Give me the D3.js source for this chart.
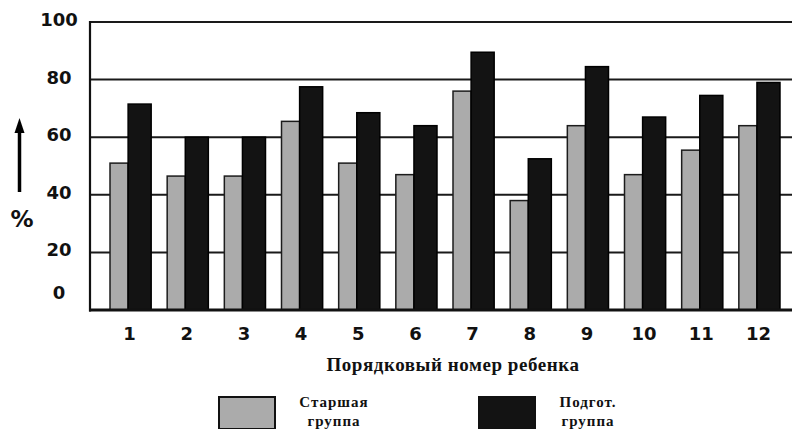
<!DOCTYPE html>
<html>
<head>
<meta charset="utf-8">
<script src="https://cdn.jsdelivr.net/npm/d3@7"></script>
<style>
  html, body { margin: 0; padding: 0; background: #fff; }
  svg { display: block; }
</style>
</head>
<body>
<svg id="chart" width="792" height="429"></svg>
<script>
const categories = ["1","2","3","4","5","6","7","8","9","10","11","12"];
const seniorGroup = [51, 46.5, 46.5, 65.5, 51, 47, 76, 38, 64, 47, 55.5, 64];
const prepGroup   = [71.5, 60, 60, 77.5, 68.5, 64, 89.5, 52.5, 84.5, 67, 74.5, 79];
const yTicks = [0, 20, 40, 60, 80, 100];
const seriesNames = ["Старшая\nгруппа", "Подгот.\nгруппа"];
const xTitle = "Порядковый номер ребенка";
const yUnit = "%";

(function () {
const svg = d3.select("#chart");
const W = 792;
const mLeft = 90, mRight = 800, mTop = 22, mBottom = 310;

const x = d3.scaleBand().domain(categories).range([mLeft, mRight]).paddingInner(0.28).paddingOuter(0.35);
const y = d3.scaleLinear().domain([0, 100]).range([mBottom, mTop]);

const grayFill = "#ababab", darkFill = "#131313";

// gridlines
svg.append("g").selectAll("line").data(yTicks.filter(t => t > 0)).join("line")
  .attr("x1", mLeft).attr("x2", W)
  .attr("y1", d => y(d)).attr("y2", d => y(d))
  .attr("stroke", "#1a1a1a").attr("stroke-width", 2);

// left axis line
svg.append("line").attr("x1", mLeft).attr("x2", mLeft).attr("y1", y(100) - 1).attr("y2", y(0) + 1.5)
  .attr("stroke", "#111").attr("stroke-width", 2.2);

// bars
const gw = 0.44;
const groups = svg.append("g").selectAll("g").data(categories).join("g");
groups.append("rect")
  .attr("x", (d) => x(d))
  .attr("width", x.bandwidth() * gw)
  .attr("y", (d, i) => y(seniorGroup[i]))
  .attr("height", (d, i) => y(0) - y(seniorGroup[i]))
  .attr("fill", grayFill).attr("stroke", "#1c1c1c").attr("stroke-width", 1.5);
groups.append("rect")
  .attr("x", (d) => x(d) + x.bandwidth() * gw)
  .attr("width", x.bandwidth() * (1 - gw))
  .attr("y", (d, i) => y(prepGroup[i]))
  .attr("height", (d, i) => y(0) - y(prepGroup[i]))
  .attr("fill", darkFill).attr("stroke", "#000").attr("stroke-width", 1.5);

// bottom axis line
svg.append("line").attr("x1", mLeft - 1).attr("x2", W).attr("y1", y(0)).attr("y2", y(0))
  .attr("stroke", "#111").attr("stroke-width", 3);

// y tick labels
svg.append("g").selectAll("text").data(yTicks).join("text")
  .attr("x", 59)
  .attr("y", d => d === 0 ? y(d) - 11 : y(d) + 4)
  .attr("text-anchor", "middle")
  .attr("font-family", "DejaVu Sans, Verdana, sans-serif")
  .attr("font-weight", "bold").attr("font-size", 18).attr("fill", "#111")
  .text(d => d);

// x tick labels
svg.append("g").selectAll("text").data(categories).join("text")
  .attr("x", d => x(d) + x.bandwidth() / 2 - 1)
  .attr("y", 340)
  .attr("text-anchor", "middle")
  .attr("font-family", "DejaVu Sans, Verdana, sans-serif")
  .attr("font-weight", "bold").attr("font-size", 18).attr("fill", "#111")
  .text(d => d);

// x title
svg.append("text").attr("x", 453).attr("y", 371).attr("text-anchor", "middle")
  .attr("font-family", "Liberation Serif, Times New Roman, serif")
  .attr("font-weight", "bold").attr("font-size", 19).attr("letter-spacing", 0.55)
  .attr("fill", "#111")
  .text(xTitle);

// y arrow and unit
svg.append("line").attr("x1", 19.5).attr("x2", 19.5).attr("y1", 192).attr("y2", 128)
  .attr("stroke", "#000").attr("stroke-width", 3.5);
svg.append("path").attr("d", "M14.5,133 L19.5,118 L24.5,133 Z").attr("fill", "#000");
svg.append("text").attr("x", 22).attr("y", 227).attr("text-anchor", "middle")
  .attr("font-family", "DejaVu Sans, Verdana, sans-serif")
  .attr("font-weight", "bold").attr("font-size", 23).attr("fill", "#111")
  .text(yUnit);

// legend
const legendItems = [
  { name: seriesNames[0], fill: grayFill, bx: 219, tx: 334 },
  { name: seriesNames[1], fill: darkFill, bx: 479, tx: 588 }
];
const lg = svg.append("g").selectAll("g").data(legendItems).join("g");
lg.append("rect").attr("x", d => d.bx).attr("y", 397).attr("width", 56).attr("height", 32)
  .attr("fill", d => d.fill).attr("stroke", "#111").attr("stroke-width", 2);
lg.each(function(d) {
  const lines = d.name.split("\n");
  const t = d3.select(this).append("text")
    .attr("text-anchor", "middle")
    .attr("font-family", "Liberation Serif, Times New Roman, serif")
    .attr("font-weight", "bold").attr("font-size", 15).attr("letter-spacing", 1)
    .attr("fill", "#111");
  lines.forEach((ln, i) => {
    t.append("tspan").attr("x", d.tx).attr("y", 407 + i * 19).text(ln);
  });
});
})();
</script>
</body>
</html>
